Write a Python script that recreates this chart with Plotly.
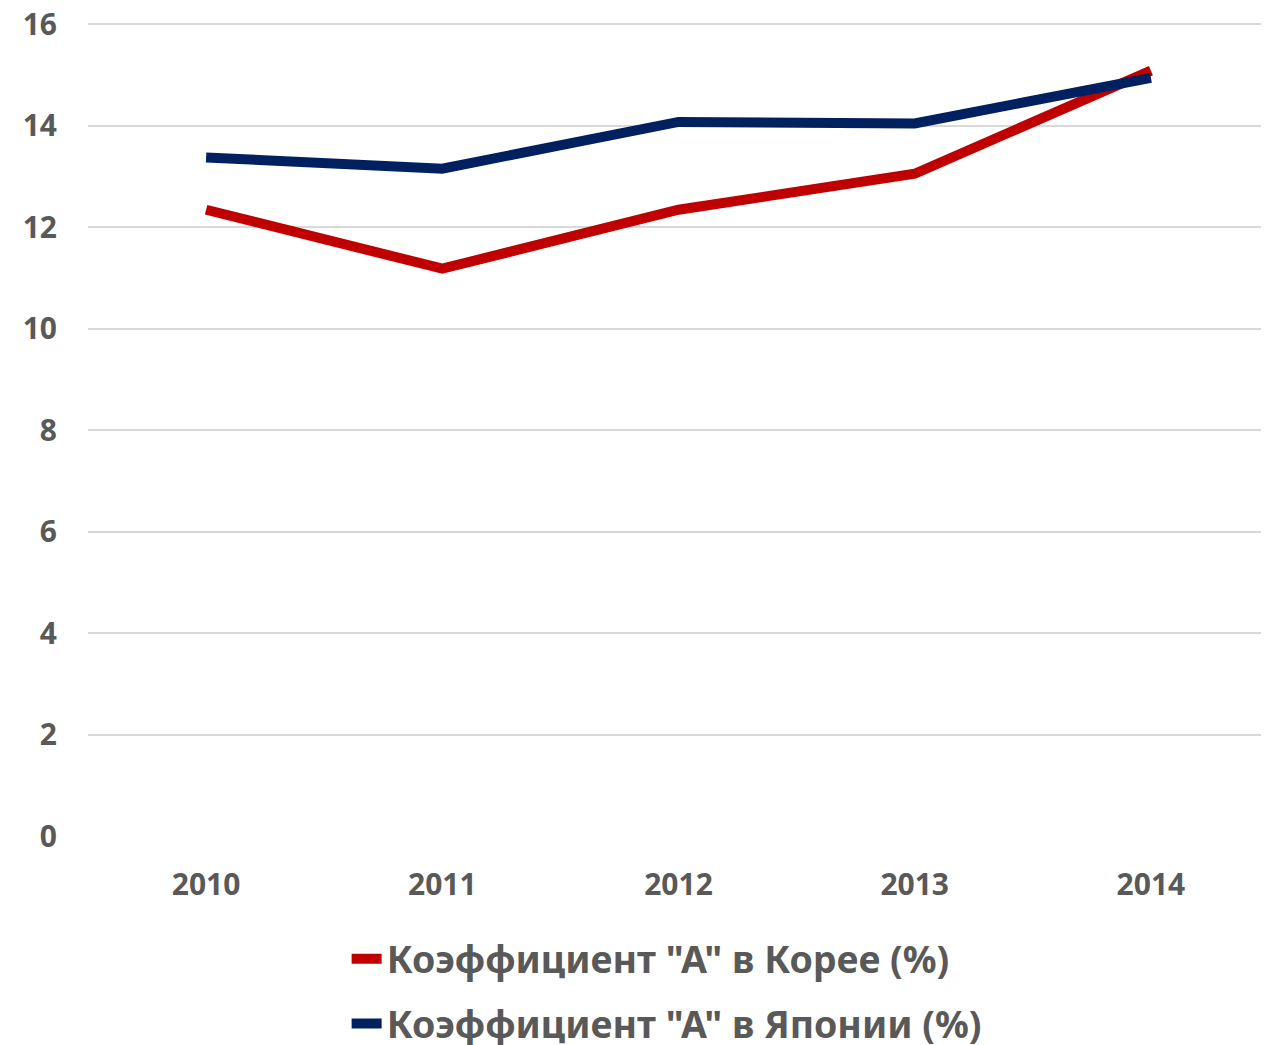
import plotly.graph_objects as go

years = ["2010", "2011", "2012", "2013", "2014"]
korea = [12.34, 11.18, 12.34, 13.05, 15.08]
japan = [13.37, 13.15, 14.07, 14.04, 14.94]
y_ticks = [0, 2, 4, 6, 8, 10, 12, 14, 16]

grey = "#595959"
fig = go.Figure()
fig.add_trace(go.Scatter(x=years, y=korea, mode="lines", name='Коэффициент "А" в Корее (%)',
                         legendgroup="k", line=dict(color="#C00000", width=10)))
fig.add_trace(go.Scatter(x=years, y=japan, mode="lines", name='Коэффициент "А" в Японии (%)',
                         legendgroup="j", line=dict(color="#002060", width=10)))

tf = dict(size=30, family="Noto Sans", weight="bold", color=grey)
fig.update_layout(
    width=1261, height=1037,
    margin=dict(l=80, r=0, t=15, b=209, autoexpand=False),
    plot_bgcolor="white", paper_bgcolor="white",
    font=dict(family="Noto Sans", color=grey),
    xaxis=dict(type="category", range=[-0.5, 4.5], showgrid=False, showline=False, ticks="",
               tickfont=tf, ticklabelstandoff=28, automargin=False, ticklabeloverflow="allow"),
    yaxis=dict(range=[0, 16.02], tickvals=y_ticks, showgrid=True, gridcolor="#D9D9D9", gridwidth=2,
               zeroline=False, showline=False, ticks="",
               tickfont=tf, ticklabelstandoff=30, automargin=False, ticklabeloverflow="allow"),
    legend=dict(orientation="v", x=0.219, xanchor="left", y=-0.113, yanchor="top",
                font=dict(size=37.5, family="Noto Sans", weight="bold", color=grey),
                tracegroupgap=13, traceorder="grouped"),
    showlegend=True,
)
fig.write_html("out.html")
